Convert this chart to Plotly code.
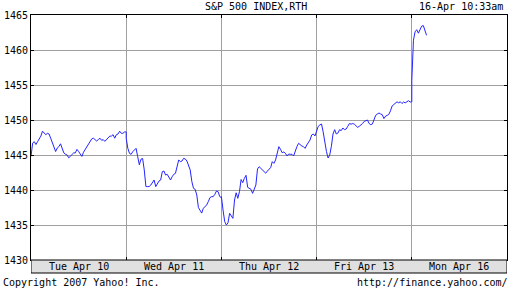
import plotly.graph_objects as go

# ---- data ----
day_labels = ["Tue Apr 10", "Wed Apr 11", "Thu Apr 12", "Fri Apr 13", "Mon Apr 16"]

tue = [1444.8, 1446.7, 1446.9, 1446.5, 1446.9, 1447.3, 1447.7, 1448.4, 1448.1, 1447.9,
       1448.1, 1448.0, 1447.4, 1446.7, 1446.0, 1445.5, 1446.0, 1446.2, 1446.6, 1445.8,
       1445.3, 1445.1, 1445.0, 1444.6, 1444.8, 1445.0, 1445.3, 1445.3, 1445.8, 1445.5,
       1445.1, 1444.8, 1445.4, 1445.8, 1446.0, 1446.5, 1446.9, 1447.3, 1447.4, 1447.2,
       1447.0, 1447.2, 1447.4, 1447.1, 1447.2, 1446.95, 1447.2, 1447.3, 1447.7, 1447.7,
       1447.9, 1447.4, 1447.9, 1448.0, 1448.4, 1448.1, 1448.1, 1448.3, 1448.3]

wed = [1447.4, 1445.95, 1445.24, 1445.10, 1445.48, 1445.71, 1445.95, 1444.76, 1443.6, 1444.4,
       1444.5, 1442.86, 1440.5, 1440.48, 1440.5, 1440.71, 1441.19, 1441.43, 1440.48, 1440.81,
       1441.29, 1441.43, 1442.62, 1442.71, 1442.14, 1442.24, 1441.90, 1441.43, 1441.90, 1442.24,
       1442.38, 1443.57, 1444.3, 1444.05, 1444.14, 1444.52, 1444.43, 1444.14, 1443.33, 1442.86,
       1441.19, 1440.24, 1440.1, 1439.29, 1437.5, 1437.14, 1436.7, 1437.38, 1437.62, 1437.86,
       1438.33, 1438.9, 1439.05, 1439.05, 1439.38, 1439.86, 1439.76, 1439.05, 1438.9]

thu = [1439.05, 1437.14, 1435.5, 1435.0, 1435.3, 1436.67, 1436.29, 1435.95, 1438.57, 1439.6,
       1438.81, 1439.76, 1441.5, 1441.05, 1441.67, 1442.1, 1440.38, 1440.24, 1440.10, 1439.52,
       1440.10, 1440.71, 1443.0, 1443.33, 1443.10, 1442.86, 1442.62, 1442.4, 1442.7, 1442.95,
       1443.2, 1444.05, 1443.81, 1444.29, 1445.3, 1446.19, 1445.81, 1445.33, 1445.43, 1445.24,
       1444.86, 1445.14, 1445.10, 1445.10, 1444.86, 1445.71, 1446.19, 1446.67, 1446.43, 1446.29,
       1446.19, 1445.95, 1446.43, 1446.90, 1447.14, 1447.86, 1448.0, 1447.71, 1448.33]

fri = [1448.4, 1449.10, 1449.3, 1449.43, 1448.3, 1446.71, 1445.5, 1444.57, 1445.0, 1446.24,
       1448.0, 1448.62, 1448.0, 1448.14, 1448.62, 1448.48, 1448.86, 1448.62, 1448.7, 1449.10,
       1449.5, 1449.4, 1449.5, 1449.4, 1449.2, 1448.95, 1449.10, 1449.24, 1449.5, 1449.8,
       1449.85, 1450.0, 1449.5, 1449.33, 1449.43, 1450.19, 1450.67, 1450.86, 1451.0, 1450.86,
       1450.76, 1450.2, 1450.55, 1450.65, 1450.8, 1451.3, 1452.0, 1452.2, 1452.35, 1452.6,
       1452.45, 1452.6, 1452.35, 1452.57, 1452.45, 1452.6, 1452.76, 1452.57, 1452.6]

mon = [1455.7, 1461.4, 1462.6, 1462.9, 1462.4, 1462.9, 1463.4, 1463.5, 1462.7, 1462.1]

y_ticks = [1430, 1435, 1440, 1445, 1450, 1455, 1460, 1465]

# ---- build x positions (session fraction per day) ----
steps_per_day = len(tue) - 1
xs, ys = [], []
for d, vals in enumerate([tue, wed, thu, fri, mon]):
    for i, v in enumerate(vals):
        xs.append(d + i / steps_per_day)
        ys.append(v)

MONO = "DejaVu Sans Mono"
fig = go.Figure()
fig.add_trace(go.Scatter(x=xs, y=ys, mode="lines",
                         line=dict(color="#2424ff", width=1), hoverinfo="skip"))

plot_h = 245.0
plot_w = 480.0
fig.update_layout(
    width=512, height=288,
    margin=dict(l=28, r=4, t=15, b=28),
    paper_bgcolor="white", plot_bgcolor="white",
    showlegend=False,
    font=dict(family=MONO, size=10, color="black"),
    xaxis=dict(range=[0, 5], tickvals=[0, 1, 2, 3, 4, 5], showticklabels=False,
               ticks="inside", ticklen=3, tickcolor="black", mirror="ticks",
               showline=True, linecolor="black", linewidth=1,
               showgrid=True, gridcolor="#a0a0a0", gridwidth=1, zeroline=False,
               fixedrange=True),
    yaxis=dict(range=[1430, 1465], tickvals=y_ticks, ticks="inside", ticklen=3,
               tickcolor="black", mirror="ticks", showline=True, linecolor="black",
               linewidth=1, showgrid=True, gridcolor="#a0a0a0", gridwidth=1,
               zeroline=False, tickfont=dict(family=MONO, size=10, color="black"),
               fixedrange=True),
)

# gray day band below plot
fig.add_shape(type="rect", xref="x", yref="paper", x0=0, x1=5,
              y0=-13 / plot_h, y1=0, fillcolor="#e0e0e0",
              line=dict(color="black", width=1), layer="above")
for d, lab in enumerate(day_labels):
    fig.add_annotation(x=d + 0.5, y=-6.8 / plot_h, xref="x", yref="paper",
                       text=lab, showarrow=False, yanchor="middle",
                       font=dict(family=MONO, size=10, color="black"))

fig.add_annotation(x=(255 - 28) / plot_w, y=1 + (15 - 6.5) / plot_h, xref="paper", yref="paper",
                   text="S&amp;P 500 INDEX,RTH", showarrow=False, xanchor="center", yanchor="middle",
                   font=dict(family=MONO, size=10, color="black"))
fig.add_annotation(x=(506 - 28) / plot_w, y=1 + (15 - 6.5) / plot_h, xref="paper", yref="paper",
                   text="16-Apr 10:33am", showarrow=False, xanchor="right", yanchor="middle",
                   font=dict(family=MONO, size=10, color="black"))
fig.add_annotation(x=(0 - 28) / plot_w, y=-(282 - 260) / plot_h, xref="paper", yref="paper",
                   text="Copyright 2007 Yahoo! Inc.", showarrow=False, xanchor="left",
                   yanchor="middle", xshift=-2,
                   font=dict(family=MONO, size=10, color="black"))
fig.add_annotation(x=(511 - 28) / plot_w, y=-(282 - 260) / plot_h, xref="paper", yref="paper",
                   text="http://finance.yahoo.com/", showarrow=False, xanchor="right",
                   yanchor="middle",
                   font=dict(family=MONO, size=10, color="black"))

fig.write_html("out.html", config={"displayModeBar": False})
